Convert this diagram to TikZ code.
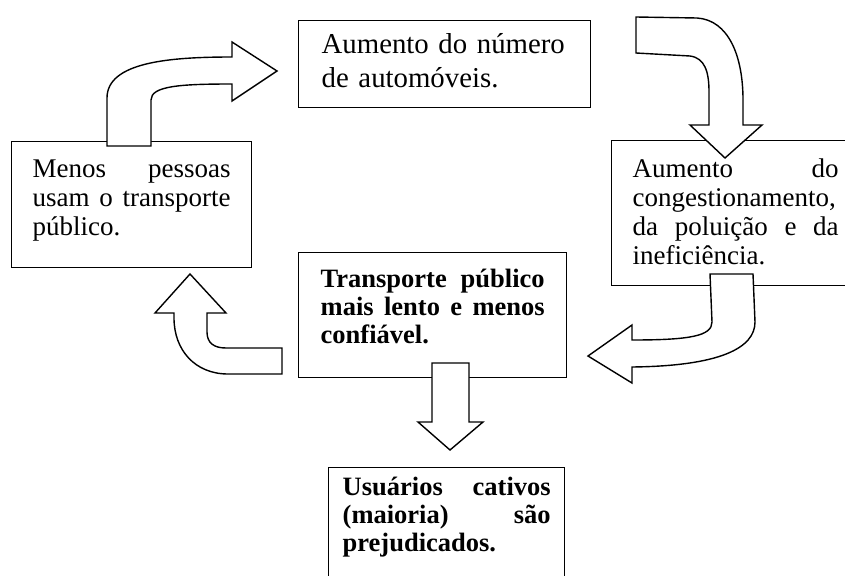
\documentclass[tikz,border=0pt]{standalone}
\usepackage{fontspec}
\setmainfont{Liberation Serif}
\usepackage{tikz}

\begin{document}
\begin{tikzpicture}[
    x=1pt, y=-1pt,
    block/.style={draw, line width=1.4pt, rectangle, inner ysep=0pt, align=left, anchor=north west, font=\fontsize{27}{29}\selectfont},
    boldblock/.style={block, font=\fontsize{26.5}{28}\selectfont\bfseries},
    bigarrow/.style={draw, fill=white, line width=1.4pt, line join=miter}
]
    \useasboundingbox (0,0) rectangle (845,575);
    \clip (0,0) rectangle (845,575);

    % Node placement
    \node (carros) [block, font=\fontsize{28.8}{34}\selectfont, inner xsep=23pt, text width=246pt, text height=33pt, text depth=54pt] at (298,20) {Aumento do número\\de automóveis.};
    \node (congest) [block, inner xsep=21pt, text width=206pt, text height=37pt, text depth=108pt] at (611,140) {Aumento\hfill do\\congestionamento,\\da\hfill poluição\hfill e\hfill da\\ineficiência.};
    \node (menos) [block, inner xsep=21pt, text width=198pt, text height=36pt, text depth=90pt] at (11,141) {Menos\hfill pessoas\\usam\hfill o\hfill transporte\\público.};
    \node (lento) [boldblock, inner xsep=22pt, text width=224pt, text height=35pt, text depth=90pt] at (298,252) {Transporte\hfill público\\mais\hfill lento\hfill e\hfill menos\\confiável.};
    \node (cativos) [boldblock, inner xsep=14pt, text width=208pt, text height=28pt, text depth=140pt] at (328,467) {Usuários\hfill cativos\\(maioria)\hfill são\\prejudicados.};

    % Arrows
    % menos -> carros
    \draw[bigarrow] (107,146) -- (107,98) .. controls (107,62) and (170,57) .. (232,57) -- (232,42) -- (277,71) -- (232,101) -- (232,84) .. controls (180,84) and (151,86) .. (151,100) -- (151,146) -- cycle;
    % carros -> congest
    \draw[bigarrow] (636,17) -- (697,18) .. controls (728,20) and (743,55) .. (743,100) -- (743,125) -- (762,125) -- (725,158) -- (690,125) -- (709,125) -- (709,92) .. controls (709,72) and (705,58) .. (690,56) -- (636,53) -- cycle;
    % congest -> lento
    \draw[bigarrow] (710,274) -- (712,322) .. controls (712,336) and (690,340) .. (632,340) -- (632,325) -- (588,356) -- (632,383) -- (632,367) .. controls (720,366) and (755,348) .. (755,322) -- (753,274) -- cycle;
    % lento -> menos
    \draw[bigarrow] (282,374) -- (228,374) .. controls (195,374) and (174,350) .. (174,318) -- (174,313) -- (155,313) -- (190,274) -- (226,313) -- (207,313) -- (207,332) .. controls (207,343) and (214,348) .. (226,348) -- (282,348) -- cycle;
    % lento -> cativos
    \draw[bigarrow] (432,363) -- (469,363) -- (469,422) -- (483,422) -- (450,450) -- (418,422) -- (432,422) -- cycle;

\end{tikzpicture}
\end{document}
